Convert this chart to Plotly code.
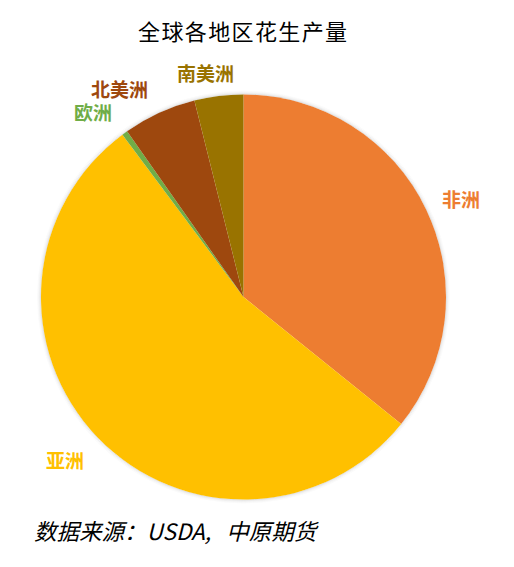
import plotly.graph_objects as go

regions = ['非洲', '亚洲', '欧洲', '北美洲', '南美洲']
output_share = [35.8, 54.0, 0.45, 5.85, 3.9]
colors = ['#ED7D31', '#FFC000', '#70AD47', '#9E480E', '#997300']
label_x = [461, 65, 93, 119, 205]
label_y = [198, 459, 111, 89, 72]

W, H = 514, 567
PAGE = 8  # body margin of the html page
cx, cy, r = 243.5 - PAGE, 297 - PAGE, 202.5


def px(x):
    return (x - PAGE) / W


def py(y):
    return 1 - (y - PAGE) / H


fig = go.Figure()
fig.add_trace(go.Pie(
    labels=regions,
    values=output_share,
    sort=False,
    direction='clockwise',
    rotation=0,
    textinfo='none',
    hoverinfo='label+percent',
    showlegend=False,
    marker=dict(colors=colors, line=dict(width=0)),
    domain=dict(x=[(cx - r) / W, (cx + r) / W], y=[1 - (cy + r) / H, 1 - (cy - r) / H]),
))

# soft shadow round the pie
for grow, alpha in [(0.5, 0.12), (1.5, 0.07), (2.5, 0.04), (3.5, 0.02)]:
    fig.add_shape(type='circle', xref='paper', yref='paper', layer='below',
                  x0=(cx - r - grow) / W, x1=(cx + r + grow) / W,
                  y0=1 - (cy + r + grow) / H, y1=1 - (cy - r - grow) / H,
                  line=dict(width=1, color=f'rgba(0,0,0,{alpha})'))

for name, c, x, y in zip(regions, colors, label_x, label_y):
    fig.add_annotation(x=px(x), y=py(y), xref='paper', yref='paper', text=f'<b>{name}</b>', showarrow=False,
                       xanchor='center', yanchor='middle',
                       font=dict(size=19, color=c, family='Noto Sans CJK SC'))

# title and source line
fig.add_annotation(x=px(242), y=py(30), xref='paper', yref='paper', showarrow=False,
                   xanchor='center', yanchor='middle',
                   text='\u200a'.join('全球各地区花生产量'),
                   font=dict(size=22, color='#000000', family='Noto Sans CJK SC'))
fig.add_annotation(x=px(32), y=py(530), xref='paper', yref='paper', showarrow=False,
                   xanchor='left', yanchor='middle',
                   text='<i>数据来源：USDA,\u00a0\u00a0\u00a0中原期货</i>',
                   font=dict(size=22.5, color='#000000', family='Noto Sans CJK SC'))

fig.update_layout(width=W, height=H, margin=dict(l=0, r=0, t=0, b=0),
                  paper_bgcolor='white', plot_bgcolor='white')
fig.write_html('out.html')
